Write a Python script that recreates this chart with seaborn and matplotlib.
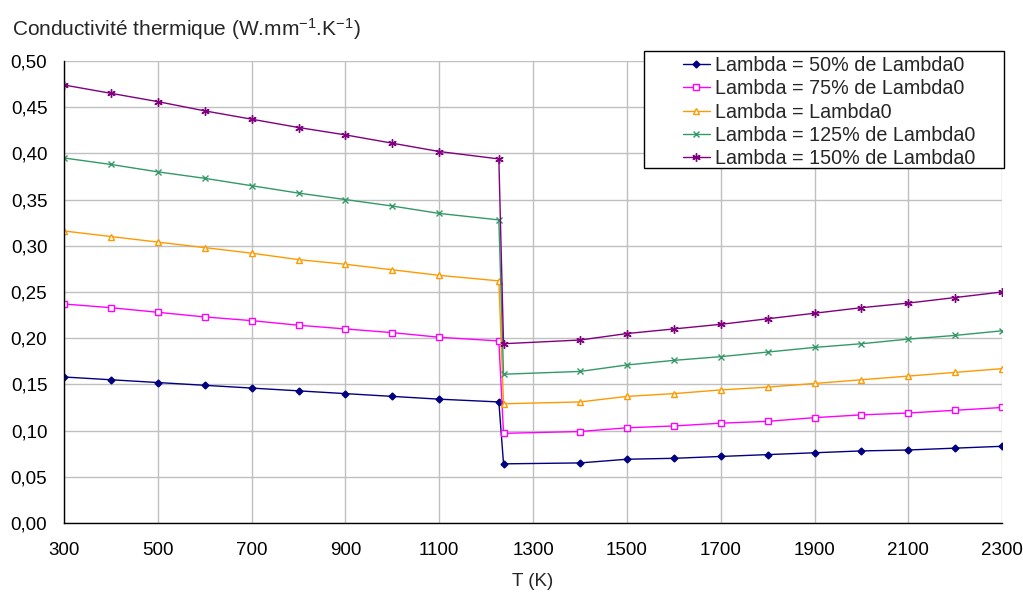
import pandas as pd
import matplotlib
matplotlib.use("Agg")
import matplotlib.pyplot as plt
from matplotlib.patches import Rectangle
from matplotlib.ticker import FuncFormatter, MultipleLocator
import seaborn as sns

# ==========================================
# Data
# ==========================================

temperature = [300, 400, 500, 600, 700, 800, 900, 1000, 1100, 1227,
               1237, 1400, 1500, 1600, 1700, 1800, 1900, 2000, 2100, 2200, 2300]

lambda_50 = [0.158, 0.155, 0.152, 0.149, 0.146, 0.143, 0.140, 0.137, 0.134, 0.131,
             0.064, 0.065, 0.069, 0.070, 0.072, 0.074, 0.076, 0.078, 0.079, 0.081, 0.083]
lambda_75 = [0.237, 0.233, 0.228, 0.223, 0.219, 0.214, 0.210, 0.206, 0.201, 0.197,
             0.097, 0.099, 0.103, 0.105, 0.108, 0.110, 0.114, 0.117, 0.119, 0.122, 0.125]
lambda_100 = [0.316, 0.310, 0.304, 0.298, 0.292, 0.285, 0.280, 0.274, 0.268, 0.262,
              0.129, 0.131, 0.137, 0.140, 0.144, 0.147, 0.151, 0.155, 0.159, 0.163, 0.167]
lambda_125 = [0.395, 0.388, 0.380, 0.373, 0.365, 0.357, 0.350, 0.343, 0.335, 0.328,
              0.161, 0.164, 0.171, 0.176, 0.180, 0.185, 0.190, 0.194, 0.199, 0.203, 0.208]
lambda_150 = [0.474, 0.465, 0.456, 0.446, 0.437, 0.428, 0.420, 0.411, 0.402, 0.394,
              0.194, 0.198, 0.205, 0.210, 0.215, 0.221, 0.227, 0.233, 0.238, 0.244, 0.250]

series_labels = ["Lambda = 50% de Lambda0", "Lambda = 75% de Lambda0",
                 "Lambda = Lambda0", "Lambda = 125% de Lambda0",
                 "Lambda = 150% de Lambda0"]

x_ticks = [300, 500, 700, 900, 1100, 1300, 1500, 1700, 1900, 2100, 2300]

df = pd.DataFrame({"T": temperature})
for label, values in zip(series_labels,
                         [lambda_50, lambda_75, lambda_100, lambda_125, lambda_150]):
    df[label] = values
long_df = df.melt(id_vars="T", var_name="serie", value_name="k")

# ==========================================
# Style
# ==========================================

sns.set_style("white")
plt.rcParams["font.family"] = ["Liberation Sans", "DejaVu Sans"]
plt.rcParams["mathtext.fontset"] = "custom"
plt.rcParams["mathtext.rm"] = "Liberation Sans"
plt.rcParams["mathtext.it"] = "Liberation Sans"

colors = ["#000080", "#FF00FF", "#FF9900", "#339966", "#800080"]
markers = ["D", "s", "^", "x", (6, 2, 0)]
sizes = [3.5, 4.5, 4.5, 5, 6]
filled = [True, False, False, True, True]

fig = plt.figure(figsize=(10.23, 5.96), dpi=100)
ax = fig.add_axes([0.0626, 0.1225, 0.917, 0.7752])

for label, color, marker, ms, fill in zip(series_labels, colors, markers, sizes, filled):
    sns.lineplot(
        data=long_df[long_df["serie"] == label],
        x="T",
        y="k",
        ax=ax,
        color=color,
        linewidth=1.0,
        marker=marker,
        markersize=ms,
        markeredgecolor=color,
        markerfacecolor=color if fill else "white",
        markeredgewidth=1.0,
        label=label,
    )

# ==========================================
# Axes
# ==========================================

ax.set_xlim(300, 2300)
ax.set_ylim(0, 0.5)
ax.set_xticks(x_ticks)
ax.yaxis.set_major_locator(MultipleLocator(0.05))
ax.yaxis.set_major_formatter(FuncFormatter(lambda v, p: f"{v:.2f}".replace(".", ",")))

ax.grid(True, color="#c0c0c0", linewidth=1.0)
ax.set_axisbelow(True)
for side in ["top", "right"]:
    ax.spines[side].set_visible(False)
for side in ["left", "bottom"]:
    ax.spines[side].set_color("black")
    ax.spines[side].set_linewidth(1.0)

ax.tick_params(axis="both", direction="out", length=5, width=1, color="black",
               labelsize=13.5, labelcolor="black")
ax.tick_params(axis="x", pad=9)
ax.tick_params(axis="y", pad=7)

ax.set_xlabel("T (K)", fontsize=13.5, labelpad=10)
ax.set_ylabel("")
fig.text(0.012, 0.952, "Conductivité thermique (W.mm$^{-1}$.K$^{-1}$)",
         fontsize=15, ha="left", va="center")

# Legend frame (Excel style, wide left padding)
frame = Rectangle((644 / 1023, 1 - 168 / 596), 360 / 1023, 117 / 596,
                  transform=fig.transFigure, facecolor="white", edgecolor="black",
                  linewidth=1.0, clip_on=False, zorder=4)
ax.add_artist(frame)

leg = ax.legend(loc="upper left", bbox_to_anchor=(683 / 1023, 1 - 56 / 596),
                bbox_transform=fig.transFigure, fontsize=14.2, frameon=False,
                borderpad=0, labelspacing=0.22, handlelength=1.35,
                handletextpad=0.25, borderaxespad=0)
leg.set_zorder(5)

plt.savefig("out.png", dpi=100)
